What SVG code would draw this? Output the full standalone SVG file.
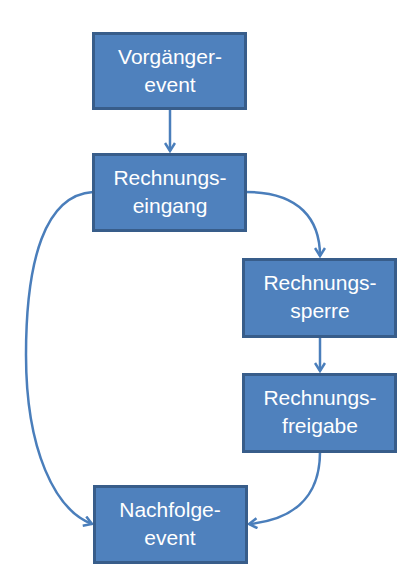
<svg xmlns="http://www.w3.org/2000/svg" width="411" height="575" viewBox="0 0 411 575">
<style>
.box{fill:#4f81bd;stroke:#385d8a;stroke-width:3}
.t{font-family:"Liberation Sans",Arial,sans-serif;font-size:21px;fill:#fff;text-anchor:middle}
.c{fill:none;stroke:#4a7ebb;stroke-width:2.5}
</style>
<defs>
<marker id="a" viewBox="0 0 12 12" refX="10" refY="6" markerWidth="12" markerHeight="12" markerUnits="userSpaceOnUse" orient="auto">
<path d="M2,1 L10,6 L2,11" fill="none" stroke="#4a7ebb" stroke-width="2.5"/>
</marker>
</defs>
<g id="connectors">
<path class="c" d="M170,109 L170,151" marker-end="url(#a)"/>
<path class="c" d="M246,192 C300,192 320,220 320,256" marker-end="url(#a)"/>
<path class="c" d="M320,337 L320,371" marker-end="url(#a)"/>
<path class="c" d="M320,452 C320,500 290,520 249,524" marker-end="url(#a)"/>
<path class="c" d="M93,192 C45,195 26,260 26,355 C26,450 55,510 92,524" marker-end="url(#a)"/>
</g>
<g id="n1"><rect class="box" x="93.5" y="33.5" width="152" height="75"/><text class="t" x="170" y="64">Vorgänger-</text><text class="t" x="170" y="92">event</text></g>
<g id="n2"><rect class="box" x="93.5" y="154.5" width="152" height="76"/><text class="t" x="170" y="185">Rechnungs-</text><text class="t" x="170" y="213">eingang</text></g>
<g id="n3"><rect class="box" x="243.5" y="259.5" width="152" height="77"/><text class="t" x="320" y="290">Rechnungs-</text><text class="t" x="320" y="318">sperre</text></g>
<g id="n4"><rect class="box" x="243.5" y="374.5" width="152" height="77"/><text class="t" x="320" y="405">Rechnungs-</text><text class="t" x="320" y="433">freigabe</text></g>
<g id="n5"><rect class="box" x="94.5" y="486.5" width="152" height="76"/><text class="t" x="170" y="517">Nachfolge-</text><text class="t" x="170" y="545">event</text></g>
</svg>
